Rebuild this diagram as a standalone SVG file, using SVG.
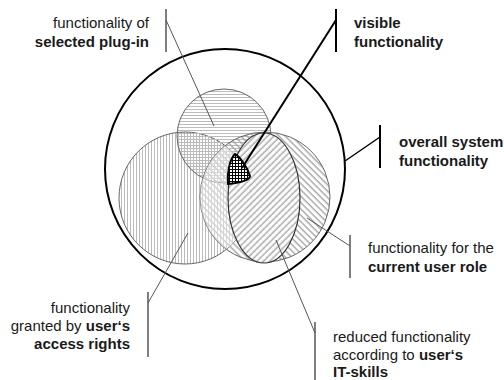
<svg xmlns="http://www.w3.org/2000/svg" width="504" height="380" viewBox="0 0 504 380">
<style>
text{font-family:"Liberation Sans",Arial,sans-serif;font-size:15px;fill:#1a1a1a}
.b{font-weight:bold}
.r{text-anchor:end}
.thin{stroke:#555;stroke-width:1;fill:none}
.bar{stroke:#555;stroke-width:1.5;fill:none}
.barB{stroke:#000;stroke-width:2;fill:none}
</style>
<defs>
<pattern id="hz" width="6" height="3" patternUnits="userSpaceOnUse"><line x1="0" y1="1.5" x2="6" y2="1.5" stroke="#bbb" stroke-width="1"/></pattern>
<pattern id="vt" width="3" height="6" patternUnits="userSpaceOnUse"><rect width="3" height="6" fill="#fff"/><line x1="1.5" y1="0" x2="1.5" y2="6" stroke="#bbb" stroke-width="1"/></pattern>
<pattern id="bs" width="4.5" height="10" patternUnits="userSpaceOnUse" patternTransform="rotate(-45)"><line x1="2" y1="0" x2="2" y2="10" stroke="#aaa" stroke-width="1.5"/></pattern>
<pattern id="fs" width="4.5" height="10" patternUnits="userSpaceOnUse" patternTransform="rotate(45)"><rect width="4.5" height="10" fill="#fff"/><line x1="2" y1="0" x2="2" y2="10" stroke="#aaa" stroke-width="1.5"/></pattern>
<pattern id="grid" width="3" height="3" patternUnits="userSpaceOnUse"><rect width="3" height="3" fill="#fff"/><path d="M0,1.5H3M1.5,0V3" stroke="#000" stroke-width="1"/></pattern>
<clipPath id="leftClip"><circle cx="185" cy="198" r="66"/></clipPath>
</defs>

<g id="overall">
<circle cx="225" cy="169" r="120" fill="none" stroke="#000" stroke-width="2"/>
</g>
<g id="access-rights">
<circle cx="185" cy="198" r="66" fill="url(#vt)" stroke="#666" stroke-width="1"/>
</g>
<g id="plug-in">
<circle cx="224" cy="136" r="47" fill="url(#hz)" stroke="#666" stroke-width="1"/>
</g>
<g id="user-role">
<circle cx="265" cy="197" r="65" fill="url(#bs)" stroke="#666" stroke-width="1"/>
<circle cx="265" cy="197" r="65" fill="#fff" fill-opacity="0.45" stroke="none" clip-path="url(#leftClip)"/>
</g>
<g id="it-skills">
<ellipse cx="264" cy="198" rx="36" ry="65" fill="url(#fs)" fill-opacity="0.9" stroke="#333" stroke-width="1.2"/>
</g>
<g id="visible">
<path d="M235,154 C239,156 247,166 250,176 C250,180 240,183 228,184 C227,175 229,160 235,154 Z" fill="url(#grid)" stroke="#000" stroke-width="2"/>
</g>

<g id="connectors">
<path class="bar" d="M166,9V52"/>
<path class="thin" d="M166,20L214,126"/>
<path class="barB" d="M336,9V52"/>
<path d="M336,20L242,168" stroke="#000" stroke-width="2" fill="none"/>
<path class="barB" d="M380,125V168"/>
<path d="M345,161L380,137" stroke="#000" stroke-width="1.5" fill="none"/>
<path class="bar" d="M350,235V278"/>
<path class="thin" d="M350,246L307,218"/>
<path class="bar" d="M315,322V380"/>
<path class="thin" d="M315,333L276,240"/>
<path class="bar" d="M148,292V357"/>
<path class="thin" d="M148,303L188,233"/>
</g>

<g id="labels">
<text class="r" x="149" y="28">functionality of</text>
<text class="r b" x="149" y="47">selected plug-in</text>
<text class="b" x="354" y="28">visible</text>
<text class="b" x="354" y="47">functionality</text>
<text class="b" x="399" y="147">overall system</text>
<text class="b" x="399" y="166">functionality</text>
<text x="368" y="253">functionality for the</text>
<text class="b" x="368" y="272">current user role</text>
<text x="333" y="342">reduced functionality</text>
<text x="333" y="360">according to <tspan class="b">user‘s</tspan></text>
<text class="b" x="333" y="377">IT-skills</text>
<text class="r" x="130" y="313">functionality</text>
<text class="r" x="130" y="331">granted by <tspan class="b">user‘s</tspan></text>
<text class="r b" x="130" y="349">access rights</text>
</g>
</svg>
